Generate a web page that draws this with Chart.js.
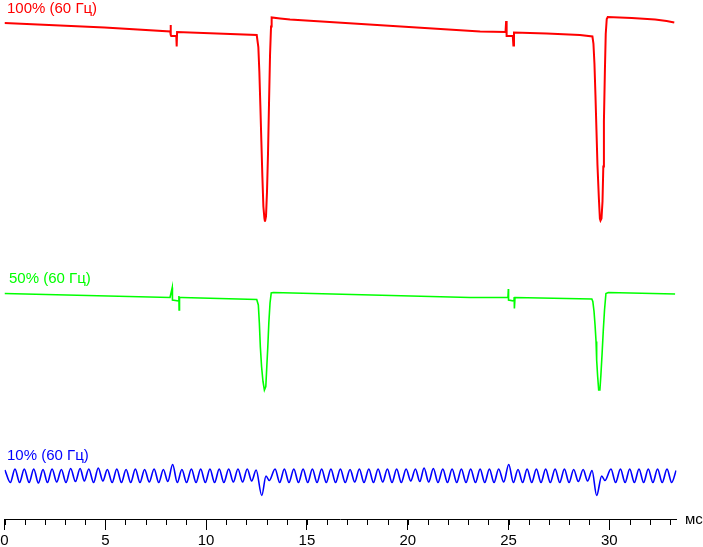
<!DOCTYPE html>
<html>
<head>
<meta charset="utf-8">
<script src="https://cdn.jsdelivr.net/npm/chart.js@4/dist/chart.umd.min.js"></script>
<style>
  html, body { margin: 0; padding: 0; background: #fff; }
  #wrap { position: relative; width: 703px; height: 547px; }
</style>
</head>
<body>
<div id="wrap"><canvas id="osc"></canvas></div>
<script>
'use strict';

// traces: [time ms, level] — level is an arbitrary screen unit, each trace on its own offset
const seriesLabels = ['100% (60 Гц)', '50% (60 Гц)', '10% (60 Гц)'];
const seriesColors = ['#ff0000', '#00ff00', '#0000ff'];
const xTicks = [0, 5, 10, 15, 20, 25, 30];
const unitLabel = 'мс';

const red100 = [
  [0.00, 99.2], [4.96, 98.3], [8.22, 97.5], [8.24, 98.8], [8.25, 96.8], [8.27, 96.6], [8.52, 96.6],
  [8.54, 94.5], [8.56, 97.4], [12.51, 96.8], [12.59, 94.4], [12.64, 89.5], [12.69, 82.7], [12.74, 75.5],
  [12.79, 68.5], [12.84, 62.5], [12.89, 60.2], [12.92, 59.5], [12.97, 60.5], [13.02, 65.5], [13.07, 73.2],
  [13.12, 83.2], [13.17, 92.8], [13.22, 98.5], [13.25, 100.3], [13.67, 100.1], [14.16, 99.9], [23.59, 97.5],
  [24.85, 97.4], [24.88, 99.6], [24.90, 96.8], [24.91, 96.6], [25.21, 96.6], [25.24, 94.7], [25.27, 97.3],
  [26.89, 97.1], [28.54, 96.8], [29.16, 96.5], [29.21, 95.1], [29.26, 91.1], [29.31, 84.8], [29.36, 77.8],
  [29.41, 70.8], [29.48, 64.1], [29.53, 60.1], [29.56, 59.7], [29.61, 60.1], [29.66, 63.5], [29.70, 70.5],
  [29.73, 79.5], [29.78, 89.9], [29.82, 97.0], [29.87, 100.0], [29.92, 100.4], [31.11, 100.2], [32.27, 99.9],
  [32.84, 99.6], [33.22, 99.3],
];

const green50 = [
  [0.00, 45.1], [8.21, 44.3], [8.32, 46.3], [8.33, 43.8], [8.64, 43.6], [8.65, 44.6], [8.66, 41.8],
  [8.68, 44.3], [8.79, 44.3], [12.51, 43.9], [12.59, 42.8], [12.64, 39.2], [12.69, 34.4], [12.75, 30.5],
  [12.82, 27.5], [12.89, 25.8], [12.96, 26.5], [13.01, 30.5], [13.06, 34.5], [13.11, 39.2], [13.17, 43.2],
  [13.23, 45.2], [13.33, 45.3], [23.09, 44.3], [24.97, 44.3], [24.99, 46.0], [25.00, 43.8], [25.27, 43.6],
  [25.28, 44.4], [25.29, 42.1], [25.32, 44.3], [29.13, 44.0], [29.18, 43.5], [29.24, 41.5], [29.29, 38.8],
  [29.34, 35.5], [29.37, 31.8], [29.42, 28.5], [29.47, 25.8], [29.53, 25.8], [29.58, 28.8], [29.64, 33.1],
  [29.70, 37.8], [29.76, 41.8], [29.83, 45.1], [29.95, 45.3], [33.26, 45.0],
];

const blue10 = [
  [0.02, 9.8], [0.29, 7.3], [0.52, 10.0], [0.75, 7.3], [0.98, 10.0], [1.22, 7.3], [1.45, 10.0], [1.68, 7.2],
  [1.91, 9.9], [2.13, 7.3], [2.36, 10.0], [2.59, 7.4], [2.82, 9.9], [3.05, 7.3], [3.28, 10.1], [3.52, 7.5],
  [3.75, 10.1], [3.96, 7.6], [4.18, 10.0], [4.42, 7.3], [4.65, 10.2], [4.88, 7.6], [5.10, 9.9], [5.34, 7.3],
  [5.57, 10.0], [5.80, 7.3], [6.03, 9.9], [6.26, 7.3], [6.49, 10.0], [6.72, 7.3], [6.95, 9.9], [7.18, 7.4],
  [7.42, 10.0], [7.65, 7.3], [7.88, 9.9], [8.10, 7.5], [8.34, 10.9], [8.57, 7.3], [8.80, 9.9], [9.03, 7.3],
  [9.27, 10.0], [9.50, 7.3], [9.73, 10.0], [9.96, 7.3], [10.19, 10.0], [10.42, 7.3], [10.65, 10.0], [10.88, 7.3],
  [11.12, 10.0], [11.35, 7.4], [11.58, 10.0], [11.81, 7.4], [12.04, 10.0], [12.26, 7.6], [12.48, 9.8], [12.76, 4.7],
  [12.97, 8.6], [13.13, 7.7], [13.42, 10.0], [13.65, 7.3], [13.88, 10.0], [14.11, 7.3], [14.35, 10.0], [14.58, 7.3],
  [14.81, 10.0], [15.04, 7.3], [15.27, 10.0], [15.50, 7.3], [15.73, 10.0], [15.96, 7.3], [16.19, 10.0], [16.42, 7.3],
  [16.66, 10.0], [16.90, 7.3], [17.14, 9.9], [17.37, 7.4], [17.60, 10.0], [17.83, 7.3], [18.07, 10.0], [18.30, 7.3],
  [18.53, 10.0], [18.76, 7.4], [18.99, 10.0], [19.22, 7.3], [19.45, 10.0], [19.68, 7.3], [19.92, 10.0], [20.15, 7.6],
  [20.38, 10.0], [20.60, 7.5], [20.81, 10.2], [21.04, 7.4], [21.27, 10.1], [21.50, 7.3], [21.74, 10.0], [21.97, 7.3],
  [22.20, 10.0], [22.43, 7.3], [22.66, 10.0], [22.89, 7.3], [23.12, 10.0], [23.36, 7.3], [23.59, 10.0], [23.82, 7.3],
  [24.05, 10.0], [24.28, 7.3], [24.51, 10.0], [24.76, 7.4], [25.01, 10.9], [25.24, 7.3], [25.47, 9.9], [25.70, 7.3],
  [25.92, 10.0], [26.15, 7.3], [26.38, 10.0], [26.61, 7.3], [26.84, 10.0], [27.07, 7.3], [27.31, 10.0], [27.54, 7.3],
  [27.77, 10.0], [28.00, 7.3], [28.23, 9.9], [28.46, 7.5], [28.70, 9.9], [28.92, 7.6], [29.14, 9.7], [29.37, 4.7],
  [29.62, 8.6], [29.78, 7.7], [30.08, 10.0], [30.31, 7.3], [30.55, 10.0], [30.78, 7.3], [31.01, 10.0], [31.24, 7.3],
  [31.47, 10.0], [31.70, 7.3], [31.93, 10.0], [32.16, 7.3], [32.39, 10.0], [32.62, 7.3], [32.86, 10.0], [33.09, 7.3],
  [33.31, 9.7],
];

const FONT = 'Arial, "Liberation Sans", sans-serif';
const pts = (arr) => arr.map(([x, y]) => ({ x, y }));

// minor ticks, trace captions and the unit label
const scopeDecor = {
  id: 'scopeDecor',
  afterDraw(chart) {
    const ctx = chart.ctx;
    const xs = chart.scales.x;
    ctx.save();
    ctx.strokeStyle = '#000';
    ctx.lineWidth = 1;
    ctx.beginPath();
    for (let i = 0; i <= 33; i++) {
      const px = Math.round(xs.getPixelForValue(i)) + 0.5;
      ctx.moveTo(px, xs.top);
      ctx.lineTo(px, xs.top + 6);
    }
    ctx.stroke();

    ctx.font = '15px ' + FONT;
    ctx.textBaseline = 'alphabetic';
    const captionPos = [[7, 13], [9, 283], [7, 460]];
    seriesLabels.forEach((lbl, i) => {
      ctx.fillStyle = seriesColors[i];
      ctx.fillText(lbl, captionPos[i][0], captionPos[i][1]);
    });
    ctx.fillStyle = '#000';
    ctx.fillText(unitLabel, 685, 524);
    ctx.restore();
  },
};

new Chart(document.getElementById('osc'), {
  type: 'line',
  data: {
    datasets: [
      { label: seriesLabels[0], data: pts(red100), borderColor: seriesColors[0], borderWidth: 2 },
      { label: seriesLabels[1], data: pts(green50), borderColor: seriesColors[1], borderWidth: 1.6 },
      { label: seriesLabels[2], data: pts(blue10), borderColor: seriesColors[2], borderWidth: 1.6,
        cubicInterpolationMode: 'monotone' },
    ],
  },
  options: {
    responsive: true, maintainAspectRatio: false, animation: false,
    layout: { padding: { left: 4.5, right: 26.5, top: 4, bottom: 0 } },
    elements: { point: { radius: 0 }, line: { tension: 0, fill: false } },
    plugins: { legend: { display: false }, tooltip: { enabled: false } },
    scales: {
      x: {
        type: 'linear', min: 0, max: 33.33,
        afterBuildTicks: (s) => { s.ticks = xTicks.map((v) => ({ value: v })); },
        // 16px reserved under the axis, only the first 10px of each major tick is stroked
        grid: { drawOnChartArea: false, tickLength: 16, tickBorderDash: [10, 20], tickColor: '#000' },
        border: { color: '#000', width: 1 },
        ticks: { color: '#000', padding: 0, maxRotation: 0, font: { family: FONT, size: 15, lineHeight: 0.8 } },
      },
      y: { display: false, min: 0, max: 103 },
    },
  },
  plugins: [scopeDecor],
});
</script>
</body>
</html>
